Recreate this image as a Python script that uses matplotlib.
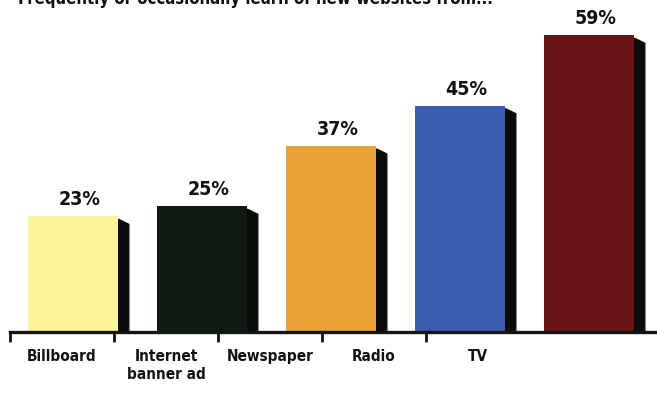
import matplotlib.pyplot as plt
import numpy as np
from matplotlib.patches import Polygon

# data
categories = ["Billboard", "Internet\nbanner ad", "Newspaper", "Radio", "TV"]
values = [23, 25, 37, 45, 59]
labels = ["23%", "25%", "37%", "45%", "59%"]
colors = ["#fdf49a", "#101a12", "#e9a236", "#3d5db3", "#6a1418"]
title = "Frequently or occasionally learn of new websites from..."

W, H = 657, 394
txt = dict(family="DejaVu Sans", fontstretch="condensed", fontweight="bold", color="#111111")

fig = plt.figure(figsize=(W / 100, H / 100), dpi=100)

# bars axes
ax = fig.add_axes([0, 62 / H, 1, (H - 62) / H])
ax.set_xlim(-73 / 129, (W - 73) / 129)
ax.set_ylim(0, 66)
ax.axis("off")

x = np.arange(len(values))
width = 0.705
bars = ax.bar(x, values, width=width, color=colors, zorder=2)

# dark side of each bar, for the 3d look
side = 0.08
for b, v in zip(bars, values):
    xr = b.get_x() + b.get_width()
    ax.add_patch(Polygon([(xr, v - 0.6), (xr + side, v - 1.6),
                          (xr + side, 0), (xr, 0)],
                         closed=True, color="#0b0b0b", zorder=1))

for xi, v, lab in zip(x, values, labels):
    ax.annotate(lab, (xi + 0.05, v), xytext=(0, 5), textcoords="offset points",
                ha="center", va="bottom", fontsize=14, **txt)

# axis with the category labels
axl = fig.add_axes([10 / W, 62 / H, (W - 10) / W, (H - 62) / H])
axl.set_facecolor("none")
axl.set_xlim(0, (W - 10) / 104)
axl.set_ylim(0, 1)
for s in ["top", "right", "left"]:
    axl.spines[s].set_visible(False)
axl.spines["bottom"].set_linewidth(2.4)
axl.spines["bottom"].set_color("#151515")
axl.set_yticks([])
axl.set_xticks(np.arange(len(categories)))
axl.set_xticklabels([])
axl.tick_params(axis="x", which="major", length=7, width=2, color="#151515", direction="out")
axl.set_xticks(np.arange(len(categories)) + 0.5, minor=True)
axl.set_xticklabels(categories, minor=True, fontsize=11, linespacing=1.3, va="top", **txt)
axl.tick_params(axis="x", which="minor", length=0, pad=12)

fig.text(18 / W, 1 - 4 / H, title, ha="left", va="baseline", fontsize=12, **txt)

fig.savefig("out.png", dpi=100)
